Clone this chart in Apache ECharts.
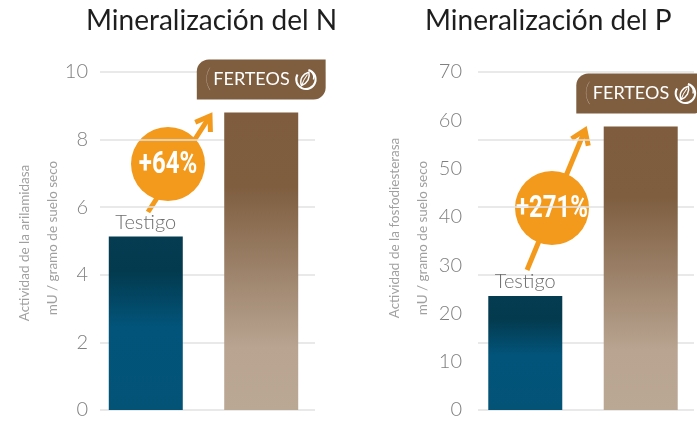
<!DOCTYPE html>
<html>
<head>
<meta charset="utf-8">
<script src="https://cdn.jsdelivr.net/npm/echarts@6/dist/echarts.min.js"></script>
<style>html,body{margin:0;padding:0;background:#fff}#c{width:697px;height:422px}</style>
</head>
<body>
<div id="c"></div>
<script>
// ---- data ----
const categories = ['Testigo', 'Ferteos'];
const nValues = [5.13, 8.8];
const pValues = [23.6, 58.7];
const nTicks = [0, 2, 4, 6, 8, 10];
const pTicks = [0, 10, 20, 30, 40, 50, 60, 70];
const pGridLines = [0, 14, 28, 42, 56, 70];
const titles = ['Mineralización del N', 'Mineralización del P'];
const nAxisName = ['Actividad de la arilamidasa', 'mU / gramo de suelo seco'];
const pAxisName = ['Actividad de la fosfodiesterasa', 'mU / gramo de suelo seco'];
const gains = ['+64%', '+271%'];

const FONT = 'Lato';
const logoSvg = "<svg xmlns='http://www.w3.org/2000/svg' width='26' height='26' viewBox='0 0 26 26'>" +
  "<path d='M16 2.6 A10.5 10.5 0 1 1 4.2 7.5' fill='none' stroke='white' stroke-width='2.2'/>" +
  "<path d='M19 4.5 A8.5 8.5 0 0 1 21.5 13' fill='none' stroke='white' stroke-width='1.6'/>" +
  "<path d='M8.5 19.5 C6 13 9.5 7 16.5 5 C18 11 15 17 8.5 19.5 Z' fill='none' stroke='white' stroke-width='1.6'/>" +
  "<path d='M8.5 19.5 C10.5 14 12.5 10.5 15 7.5' fill='none' stroke='white' stroke-width='1.2'/></svg>";
const logoUri = 'data:image/svg+xml;charset=utf-8,' + encodeURIComponent(logoSvg);

const testigoGrad = () => new echarts.graphic.LinearGradient(0, 0, 0, 1, [
  {offset: 0, color: '#053c51'}, {offset: 0.2, color: '#033a4e'},
  {offset: 0.52, color: '#02547a'}, {offset: 1, color: '#035377'}]);
const ferteosGrad = () => new echarts.graphic.LinearGradient(0, 0, 0, 1, [
  {offset: 0, color: '#7e5c3d'}, {offset: 0.25, color: '#7f5e40'},
  {offset: 0.79, color: '#b8a491'}, {offset: 1, color: '#baa794'}]);

const testigoLabel = {
  show: true, position: 'top', distance: 4, formatter: () => categories[0],
  fontFamily: FONT, fontWeight: 300, fontSize: 20, color: '#6e6e6e'
};
const badgeLabel = {
  show: true, position: 'top', distance: 13,
  formatter: '{p|(}{t|FERTEOS}{logo|}',
  backgroundColor: '#7f5e40', borderRadius: [12, 0, 12, 0],
  padding: [6, 8, 6, 8],
  rich: {
    p: {fontFamily: FONT, fontWeight: 200, fontSize: 26, color: '#cdbba8', padding: [0, 2, 2, 0]},
    t: {fontFamily: FONT, fontSize: 18, color: '#ffffff', padding: [0, 4, 0, 0]},
    logo: {width: 24, height: 24, backgroundColor: {image: logoUri}}
  }
};

const splitStyle = {show: true, lineStyle: {color: '#e2e2e2', width: 1.5}};
const labelStyle = {fontFamily: FONT, fontWeight: 300, fontSize: 20, color: '#808080'};

function axisName(lines, x1, y1, x2, y2) {
  return lines.map((t, i) => ({
    type: 'text', x: i ? x2 : x1, y: i ? y2 : y1, rotation: Math.PI / 2,
    style: {text: t, fontFamily: FONT, fontSize: 13.5, fill: '#a0a0a0', align: 'center', verticalAlign: 'middle'}
  }));
}
function badge(cx, cy, txt, tail, tip) {
  const dx = tip[0] - tail[0], dy = tip[1] - tail[1];
  const L = Math.hypot(dx, dy), ux = -dx / L, uy = -dy / L, a = 0.6, h = 16;
  const arm = s => [tip[0] + h * (ux * Math.cos(s * a) - uy * Math.sin(s * a)),
                    tip[1] + h * (ux * Math.sin(s * a) + uy * Math.cos(s * a))];
  const st = {stroke: '#f39a1c', lineWidth: 5, lineCap: 'butt', fill: null};
  return [
    {type: 'line', shape: {x1: tail[0], y1: tail[1], x2: tip[0], y2: tip[1]}, style: st},
    {type: 'polyline', shape: {points: [arm(1), tip, arm(-1)]}, style: Object.assign({}, st, {lineJoin: 'miter'})},
    {type: 'circle', shape: {cx: cx, cy: cy, r: 37}, style: {fill: '#f39a1c'}},
    {type: 'text', x: cx, y: cy + 1, scaleX: 0.75, style: {text: txt, fontFamily: 'Roboto',
      fontWeight: 'bold', fontSize: 32, fill: '#fff', align: 'center', verticalAlign: 'middle'}}
  ];
}

const chart = echarts.init(document.getElementById('c'), null, {renderer: 'canvas'});
chart.setOption({
  animation: false,
  title: [
    {text: titles[0], left: 81, top: 2, textStyle: {fontFamily: FONT, fontSize: 28, fontWeight: 'normal', color: '#1e1e1e'}},
    {text: titles[1], left: 420, top: 2, textStyle: {fontFamily: FONT, fontSize: 28, fontWeight: 'normal', color: '#1e1e1e'}}
  ],
  grid: [
    {left: 100, top: 72, width: 215, height: 338},
    {left: 96, top: 72, width: 215, height: 338},
    {left: 478, top: 72, width: 216, height: 338},
    {left: 475, top: 72, width: 216, height: 338}
  ],
  xAxis: [0, 1, 2, 3].map(i => ({type: 'category', gridIndex: i, data: [''], show: false})),
  yAxis: [
    {gridIndex: 0, type: 'value', position: 'left', min: nTicks[0], max: nTicks[nTicks.length - 1], interval: nTicks[1] - nTicks[0],
     axisLine: {show: false}, axisTick: {show: false}, splitLine: splitStyle,
     axisLabel: Object.assign({margin: 12}, labelStyle)},
    {gridIndex: 1, type: 'value', position: 'left', min: nTicks[0], max: nTicks[nTicks.length - 1], show: false},
    {gridIndex: 2, type: 'value', position: 'left', min: pGridLines[0], max: pGridLines[pGridLines.length - 1], interval: pGridLines[1] - pGridLines[0],
     axisLine: {show: false}, axisTick: {show: false}, splitLine: splitStyle, axisLabel: {show: false}},
    {gridIndex: 2, type: 'value', position: 'left', offset: 0, min: pTicks[0], max: pTicks[pTicks.length - 1], interval: pTicks[1] - pTicks[0],
     axisLine: {show: false, onZero: false}, axisTick: {show: false}, splitLine: {show: false},
     axisLabel: Object.assign({margin: 16}, labelStyle)},
    {gridIndex: 3, type: 'value', position: 'left', min: pTicks[0], max: pTicks[pTicks.length - 1], show: false}
  ],
  series: [
    {name: categories[0], type: 'bar', xAxisIndex: 1, yAxisIndex: 1, data: [nValues[0]], barWidth: 74, barGap: '56%',
     itemStyle: {color: testigoGrad()}, label: testigoLabel},
    {name: categories[1], type: 'bar', xAxisIndex: 1, yAxisIndex: 1, data: [nValues[1]], barWidth: 74, barGap: '56%',
     itemStyle: {color: ferteosGrad()}, label: badgeLabel},
    {name: categories[0], type: 'bar', xAxisIndex: 3, yAxisIndex: 4, data: [pValues[0]], barWidth: 74, barGap: '56%',
     itemStyle: {color: testigoGrad()}, label: testigoLabel},
    {name: categories[1], type: 'bar', xAxisIndex: 3, yAxisIndex: 4, data: [pValues[1]], barWidth: 74, barGap: '56%',
     itemStyle: {color: ferteosGrad()}, label: badgeLabel}
  ],
  graphic: [].concat(
    axisName(nAxisName, 25, 243, 53, 238),
    axisName(pAxisName, 395, 228, 423, 238),
    badge(168, 164, gains[0], [148, 212], [210, 116]),
    badge(552, 208, gains[1], [527, 270], [585, 130])
  )
});
</script>
</body>
</html>
